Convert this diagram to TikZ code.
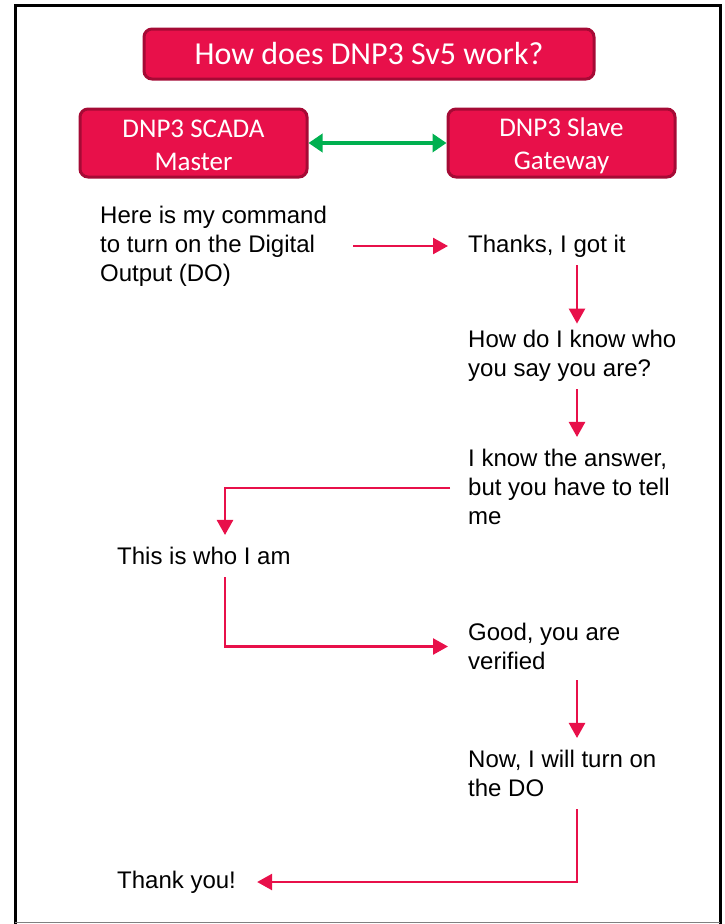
\documentclass[tikz,border=0pt]{standalone}
\usepackage{fontspec}
\setmainfont{Liberation Sans}
\newfontfamily\calib{Carlito}
\usetikzlibrary{arrows.meta,calc}
\definecolor{crim}{HTML}{E8104A}
\definecolor{crimdark}{HTML}{A50A35}
\definecolor{grn}{HTML}{00B050}
\tikzset{
  hdrbox/.style={rounded corners=8pt, fill=crim, draw=crimdark, line width=3pt, text=white, align=center, font=\calib\fontsize{27}{33}\selectfont, inner sep=0pt},
  msg/.style={anchor=west, align=left, inner sep=0pt, font=\fontsize{24}{29}\selectfont},
  arr/.style={draw=crim, line width=2.5pt, -{Triangle[length=15pt,width=16pt]}},
  garr/.style={draw=grn, line width=4pt, {Triangle[length=14pt,width=18pt]}-{Triangle[length=14pt,width=18pt]}}
}
\begin{document}
\begin{tikzpicture}[x=1pt,y=-1pt]
\useasboundingbox (0,0) rectangle (725,924);
\draw[line width=3pt] (15,924) -- (15,5) -- (720,5) -- (720,924);
\draw[gray, line width=1.5pt] (15,922.5) -- (720,922.5);
\node[hdrbox, minimum width=450pt, minimum height=50pt, font=\calib\fontsize{32}{38}\selectfont] (title) at (369,54) {How does DNP3 Sv5 work?};
\node[hdrbox, minimum width=227pt, minimum height=68pt, text height=55pt] (master) at (193.5,143) {DNP3 SCADA\\Master};
\node[hdrbox, minimum width=227pt, minimum height=68pt, text height=58pt] (slave) at (561.5,143) {DNP3 Slave\\Gateway};
\draw[garr] (master) -- (slave);
\coordinate (col) at (577,0);
\coordinate (lcol) at (225,0);
\node[msg] (cmd) at (100,246) {Here is my command\\to turn on the Digital\\Output (DO)};
\node[msg] (thanks) at (468,246) {Thanks, I got it};
\node[msg] (howdo) at (468,355.5) {How do I know who\\you say you are?};
\node[msg] (know) at (468,487) {I know the answer,\\but you have to tell\\me};
\node[msg] (who) at (117,556) {This is who I am};
\node[msg] (good) at (468,646.5) {Good, you are\\verified};
\node[msg] (now) at (468,773.5) {Now, I will turn on\\the DO};
\node[msg] (ty) at (117,882) {Thank you!};
\draw[arr] ([xshift=26pt]cmd.east |- thanks.west) -- ([xshift=-20pt]thanks.west);
\draw[arr] ([yshift=-8pt]thanks.south -| col) -- ([yshift=6pt]howdo.north -| col);
\draw[arr] ([yshift=-8pt]howdo.south -| col) -- ([yshift=12pt]know.north -| col);
\draw[arr] ([xshift=-18pt,yshift=-1pt]know.west) -| ([yshift=12pt]who.north -| lcol);
\draw[arr] ([yshift=-12pt]who.south -| lcol) |- ([xshift=-20pt]good.west);
\draw[arr] ([yshift=-10pt]good.south -| col) -- ([yshift=12pt]now.north -| col);
\draw[arr] ([yshift=-12pt]now.south -| col) |- ([xshift=21pt]ty.east);
\end{tikzpicture}
\end{document}
